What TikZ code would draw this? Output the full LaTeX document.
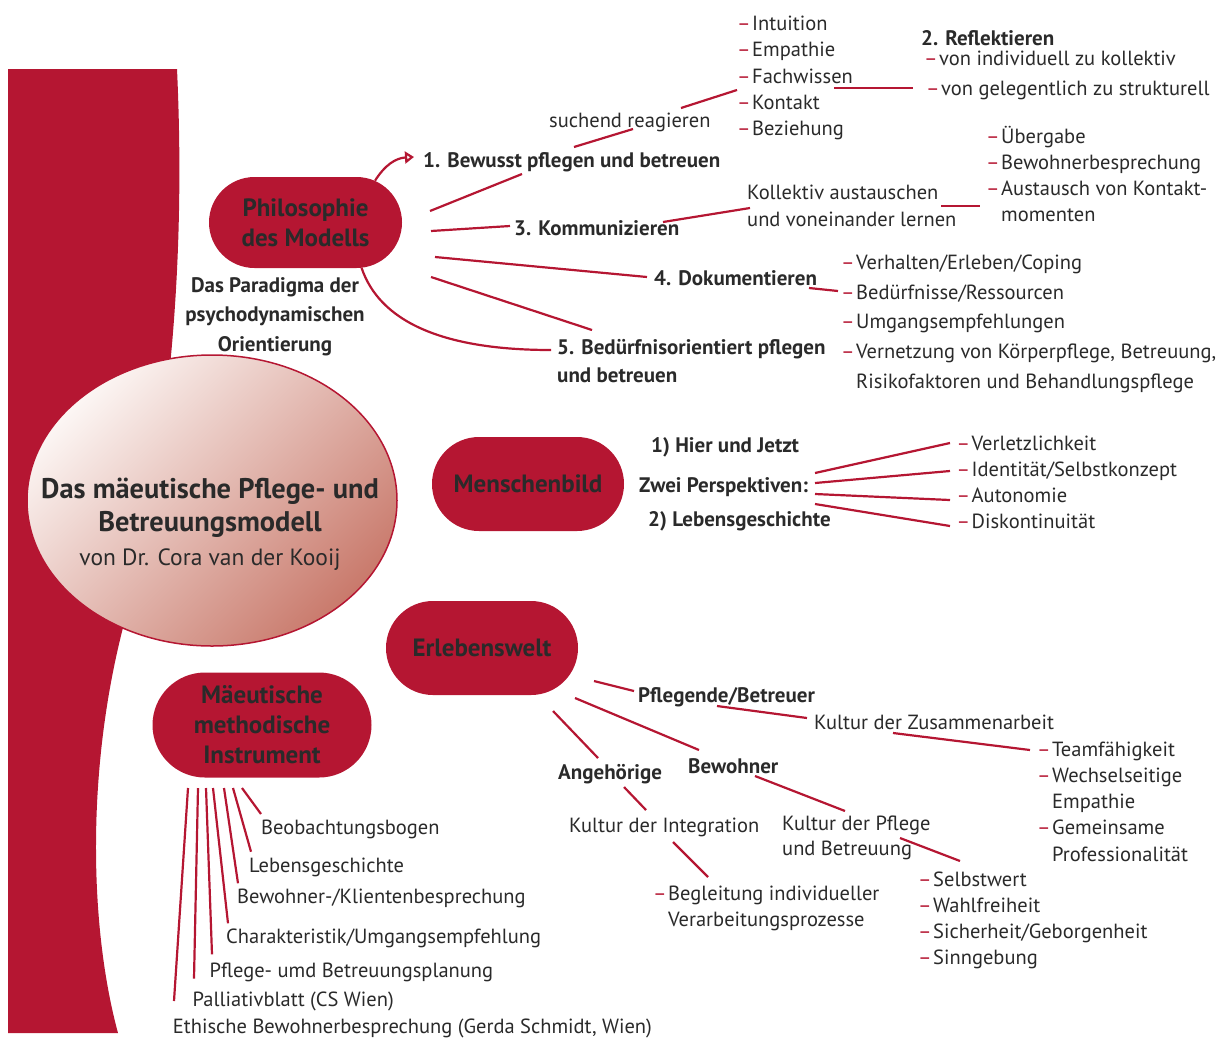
\documentclass[tikz,border=0pt]{standalone}
\usepackage{fontspec}
\setmainfont{PT Sans}
\usetikzlibrary{arrows.meta,shapes.misc,shapes.geometric}
\definecolor{mred}{HTML}{B51632}
\definecolor{ink}{HTML}{2A2A2A}
\definecolor{pale}{HTML}{FCF6F4}
\definecolor{salmon}{HTML}{C97A6C}
\newcommand{\rdash}{\makebox[14pt][l]{\kern-1pt\textcolor{mred}{–}}}
\tikzset{
  bubble/.style={rounded rectangle, fill=mred, text=ink, inner sep=0pt,
    font=\bfseries\fontsize{25}{30}\selectfont, align=center},
  core/.style={ellipse, draw=mred, line width=1.5pt, shading=axis,
    top color=pale, bottom color=salmon, shading angle=45},
  title/.style={anchor=base, inner sep=0pt, text=ink, font=\bfseries\fontsize{28.4}{30}\selectfont},
  txt/.style={anchor=base west, inner sep=0pt, text=ink, font=\fontsize{20.5}{26}\selectfont},
  head/.style={txt, font=\bfseries\fontsize{21}{26}\selectfont},
  headc/.style={head, anchor=base},
  link/.style={draw=mred, line width=2.2pt},
}
\begin{document}
\begin{tikzpicture}[x=1pt,y=-1pt]
\useasboundingbox (0,0) rectangle (1217,1037);

% red band on the left
\fill[mred] (8,69) -- (177,69) .. controls (184,220) and (178,420) .. (125,620)
  .. controls (85,770) and (90,930) .. (118,1033) -- (8,1033) -- cycle;

% centre
\node[core, minimum width=370pt, minimum height=291pt] (core) at (212,500.5) {};
\node[title] (tit1) at (210,498) {Das mäeutische Pflege- und};
\node[title] (tit2) at (210,531.7) {Betreuungsmodell};
\node[title, font=\fontsize{23.5}{26}\selectfont] (tit3) at (210,565) {von Dr. Cora van der Kooij};

% bubbles
\node[bubble, minimum width=193pt, minimum height=91pt] (philo) at (305.5,222.5) {Philosophie\\des Modells};
\node[bubble, minimum width=192pt, minimum height=94pt] (mensch) at (528,484) {Menschenbild};
\node[bubble, minimum width=192pt, minimum height=94pt] (erleb) at (482,648) {Erlebenswelt};
\node[bubble, minimum width=219pt, minimum height=105pt] (instr) at (262,725) {Mäeutische\\methodische\\Instrument};

% Philosophie des Modells
\node[headc] (para1) at (275,292.7) {Das Paradigma der};
\node[headc] (para2) at (275,321.7) {psychodynamischen};
\node[headc] (para3) at (275,351.7) {Orientierung};
\node[head] (bew) at (423,167) {1. Bewusst pflegen und betreuen};
\node[txt] (such) at (549,127) {suchend reagieren};
\foreach \w [count=\i from 0] in {Intuition,Empathie,Fachwissen,Kontakt,Beziehung}
  \node[txt] (kn\i) at (738,30.5+26.25*\i) {\rdash\w};
\node[head] (refl) at (921,45) {2. Reflektieren};
\node[txt] (refl1) at (925,65.5) {\rdash von individuell zu kollektiv};
\node[txt] (refl2) at (927,95.5) {\rdash von gelegentlich zu strukturell};
\node[head] (komm) at (514,235) {3. Kommunizieren};
\node[txt] (koll1) at (747,199.3) {Kollektiv austauschen};
\node[txt] (koll2) at (747,226) {und voneinander lernen};
\foreach \w [count=\i from 0] in {\rdash Übergabe,\rdash Bewohnerbesprechung,
    \rdash Austausch von Kontakt-,\hphantom{\rdash}momenten}
  \node[txt] (ueb\i) at (987,143+26.3*\i) {\w};
\node[head] (doku) at (654,285.7) {4. Dokumentieren};
\foreach \w [count=\i from 0] in {\rdash Verhalten/Erleben/Coping,\rdash Bedürfnisse/Ressourcen,
    \rdash Umgangsempfehlungen,{\rdash Vernetzung von Körperpflege, Betreuung,},
    \hphantom{\rdash}Risikofaktoren und Behandlungspflege}
  \node[txt] (dok\i) at (842,269.3+29.8*\i) {\w};
\node[head] (bed1) at (557,354) {5. Bedürfnisorientiert pflegen};
\node[head] (bed2) at (557,382.7) {und betreuen};

\coordinate (phBew) at (430,211);  \coordinate (bewIn) at (522,174);
\coordinate (phKom) at (431,231);  \coordinate (komIn) at (510,226);
\coordinate (phDok) at (435,257);  \coordinate (dokIn) at (647,277);
\coordinate (phBed) at (431,277);  \coordinate (bedIn) at (592,330);
\coordinate (arrTip) at (414,157); \coordinate (bedArc) at (551,350);
\coordinate (bewOut) at (574,147); \coordinate (suIn) at (633,129);
\coordinate (suOut) at (681,108);  \coordinate (knIn) at (737,90);
\coordinate (fwOut) at (834,88);   \coordinate (reIn) at (913,88);
\coordinate (komOut) at (663,222); \coordinate (kolIn) at (750,208);
\coordinate (kolOut) at (941,206); \coordinate (uebIn) at (980,206);
\coordinate (dokOut) at (809,288); \coordinate (dlIn) at (838,291);
\draw[link, -{Triangle[open, length=9pt, width=12pt]}] (philo.31) .. controls +(10,-16) and +(-18,1) .. (arrTip);
\draw[link] (philo.-39) .. controls +(18,53) and +(-110,0) .. (bedArc);
\draw[link] (phBew) -- (bewIn);
\draw[link] (phKom) -- (komIn);
\draw[link] (phDok) -- (dokIn);
\draw[link] (phBed) -- (bedIn);
\draw[link] (bewOut) -- (suIn);
\draw[link] (suOut) -- (knIn);
\draw[link] (fwOut) -- (reIn);
\draw[link] (komOut) -- (kolIn);
\draw[link] (kolOut) -- (uebIn);
\draw[link] (dokOut) -- (dlIn);

% Menschenbild
\node[head] (hier) at (651,452.7) {1) Hier und Jetzt};
\node[head] (zwei) at (639,492.7) {Zwei Perspektiven:};
\node[head] (leben) at (648,526) {2) Lebensgeschichte};
\foreach \w [count=\i from 0] in {Verletzlichkeit,Identität/Selbstkonzept,Autonomie,Diskontinuität}
  \node[txt] (mb\i) at (957.5,450+26.1*\i) {\rdash\w};
\foreach \a/\b [count=\i] in {473/443,483/471,494/500,504/526}{
  \coordinate (zw\i) at (815,\a); \coordinate (mbIn\i) at (950,\b);
  \draw[link] (zw\i) -- (mbIn\i);
}

% Erlebenswelt
\node[head] (pfl) at (638,702.7) {Pflegende/Betreuer};
\node[txt] (kzus) at (814,729.3) {Kultur der Zusammenarbeit};
\foreach \w [count=\i from 0] in {\rdash Teamfähigkeit,\rdash Wechselseitige,\hphantom{\rdash}Empathie,
    \rdash Gemeinsame,\hphantom{\rdash}Professionalität}
  \node[txt] (team\i) at (1038,756+26.25*\i) {\w};
\node[head] (bewo) at (688,773.3) {Bewohner};
\node[txt] (kpfl1) at (782,830) {Kultur der Pflege};
\node[txt] (kpfl2) at (782,855) {und Betreuung};
\foreach \w [count=\i from 0] in {Selbstwert,Wahlfreiheit,Sicherheit/Geborgenheit,Sinngebung}
  \node[txt] (selb\i) at (919,886+26.3*\i) {\rdash\w};
\node[head] (ange) at (558,779.3) {Angehörige};
\node[txt] (kint) at (569,832.7) {Kultur der Integration};
\node[txt] (begl1) at (654,900.7) {\rdash Begleitung individueller};
\node[txt] (begl2) at (654,926.7) {\hphantom{\rdash}Verarbeitungsprozesse};

\coordinate (erPfl) at (594,681);  \coordinate (pflIn) at (634,691);
\coordinate (pflOut) at (717,706); \coordinate (kzIn) at (807,718);
\coordinate (kzOut) at (893,733);  \coordinate (teamIn) at (1030,750);
\coordinate (erBew) at (575,698);  \coordinate (bewoIn) at (699,750);
\coordinate (bewoOut) at (755,776);\coordinate (kpIn) at (845,811);
\coordinate (kpOut) at (900,838);  \coordinate (selbIn) at (960,861);
\coordinate (erAng) at (553,711);  \coordinate (angIn) at (598,758);
\coordinate (angOut) at (624,787); \coordinate (kiIn) at (646,810);
\coordinate (kiOut) at (673,842);  \coordinate (beglIn) at (708,877);
\draw[link] (erPfl) -- (pflIn);
\draw[link] (pflOut) -- (kzIn);
\draw[link] (kzOut) -- (teamIn);
\draw[link] (erBew) -- (bewoIn);
\draw[link] (bewoOut) -- (kpIn);
\draw[link] (kpOut) -- (selbIn);
\draw[link] (erAng) -- (angIn);
\draw[link] (angOut) -- (kiIn);
\draw[link] (kiOut) -- (beglIn);

% Maeutische methodische Instrument
\foreach \tx/\ty/\sx/\dx/\dy/\w [count=\i] in {
    261/834/242/0/20/Beobachtungsbogen,
    249/872.7/233/2/21/Lebensgeschichte,
    237/903.3/224/1/20/{Bewohner-/Klientenbesprechung},
    226/943.3/213/2/20/{Charakteristik/Umgangsempfehlung},
    209.5/977.3/206/2.5/23/Pflege- umd Betreuungsplanung,
    192.5/1006.7/198/1.5/28/Palliativblatt (CS Wien),
    172.7/1033/188/1.3/32/{Ethische Bewohnerbesprechung (Gerda Schmidt, Wien)}}{
  \node[txt] (ins\i) at (\tx,\ty) {\w};
  \coordinate (insRoot\i) at (\sx,788);
  \draw[link] (insRoot\i) -- ([shift={(\dx,-\dy)}]ins\i.base west);
}
\end{tikzpicture}
\end{document}
